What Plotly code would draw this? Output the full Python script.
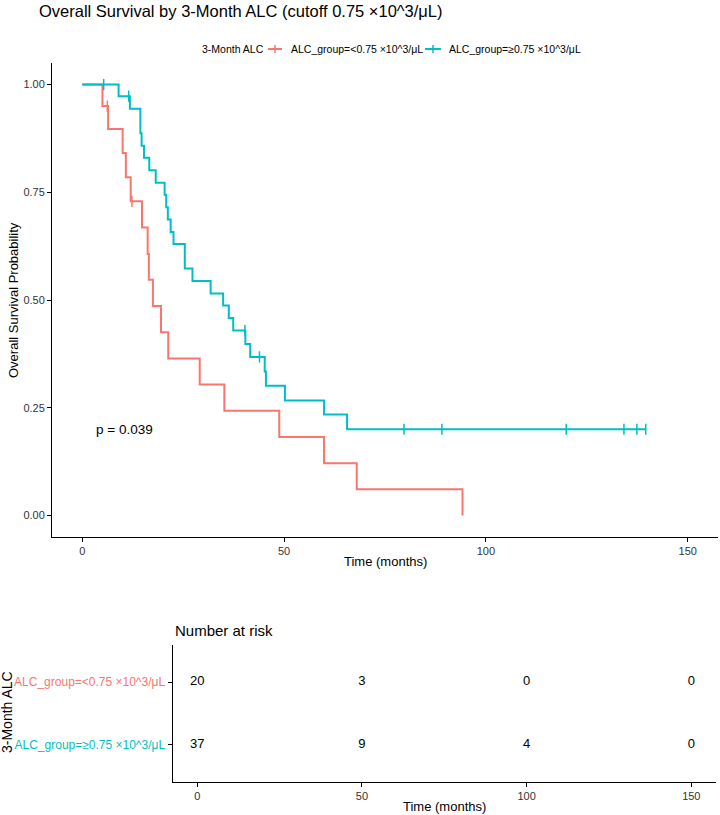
import plotly.graph_objects as go

# ---------------- data ----------------
group_names = ["ALC_group=<0.75 ×10^3/μL", "ALC_group=≥0.75 ×10^3/μL"]
group_colors = ["#F8766D", "#00BFC4"]

# Kaplan–Meier steps, low ALC group
time_lo = [0, 5.0, 6.4, 10.0, 10.8, 12.0, 14.8, 16.2, 16.5, 17.5, 19.5, 21.3, 29.1, 35.2, 48.8, 59.9, 68.0, 94.2]
surv_lo = [1.0, 0.950, 0.897, 0.841, 0.785, 0.729, 0.668, 0.607, 0.547, 0.486, 0.425, 0.364, 0.304, 0.243, 0.182, 0.121, 0.061, 0.0]
cens_time_lo = [6.2, 12.3]
cens_surv_lo = [0.950, 0.729]

# Kaplan–Meier steps, high ALC group
time_hi = [0, 9.0, 11.8, 14.4, 14.7, 15.3, 16.6, 18.2, 20.4, 20.8, 21.2, 21.9, 22.6, 25.4, 27.3, 31.8,
           34.9, 36.3, 37.4, 40.4, 41.6, 45.2, 45.5, 50.2, 59.9, 65.6, 139.6]
surv_hi = [1.0, 0.973, 0.944, 0.887, 0.858, 0.830, 0.801, 0.772, 0.744, 0.715, 0.687, 0.658, 0.630, 0.573,
           0.544, 0.515, 0.487, 0.458, 0.429, 0.398, 0.368, 0.334, 0.301, 0.267, 0.234, 0.200, 0.200]
cens_time_hi = [5.3, 11.5, 40.3, 43.9, 79.7, 89.1, 119.9, 134.2, 137.4, 139.6]
cens_surv_hi = [1.0, 0.973, 0.429, 0.368, 0.200, 0.200, 0.200, 0.200, 0.200, 0.200]

# number at risk table
risk_times = [0, 50, 100, 150]
risk_lo = [20, 3, 0, 0]
risk_hi = [37, 9, 4, 0]

x_ticks = [0, 50, 100, 150]
y_ticks = [0.0, 0.25, 0.5, 0.75, 1.0]
y_ticklabels = ["0.00", "0.25", "0.50", "0.75", "1.00"]

p_text = "p = 0.039"
title_text = "Overall Survival by 3-Month ALC (cutoff 0.75 ×10^3/μL)"
legend_title = "3-Month ALC"

# ---------------- layout helpers ----------------
W, H = 720, 815
FONT = "Liberation Sans, Arial, sans-serif"
TICK_COL = "#333333"


def px(x):
    return x / W


def py(y):
    return 1 - y / H


fig = go.Figure()

curves = [(time_lo, surv_lo, cens_time_lo, cens_surv_lo), (time_hi, surv_hi, cens_time_hi, cens_surv_hi)]
for (t, s, ct, cs), name, col in zip(curves, group_names, group_colors):
    fig.add_trace(go.Scatter(x=t, y=s, mode="lines", line=dict(color=col, width=2, shape="hv"),
                             name=name, showlegend=False, xaxis="x", yaxis="y"))
    fig.add_trace(go.Scatter(x=ct, y=cs, mode="markers",
                             marker=dict(symbol="line-ns-open", size=8, color=col,
                                         line=dict(color=col, width=1.5)),
                             showlegend=False, xaxis="x", yaxis="y"))

# risk table
row_y = [1, 0]
for counts, yv in zip([risk_lo, risk_hi], row_y):
    fig.add_trace(go.Scatter(x=risk_times, y=[yv] * len(risk_times), mode="text",
                             text=[str(c) for c in counts],
                             textfont=dict(family=FONT, size=13, color="black"),
                             textposition="middle center", showlegend=False,
                             xaxis="x2", yaxis="y2"))

axis_common = dict(showline=True, linecolor="black", linewidth=1, ticks="outside", ticklen=4,
                   tickcolor="black", tickwidth=1, showgrid=False, zeroline=False,
                   tickfont=dict(family=FONT, size=11, color=TICK_COL), fixedrange=True)

fig.update_layout(
    width=W, height=H, margin=dict(l=0, r=0, t=0, b=0),
    paper_bgcolor="white", plot_bgcolor="white",
    font=dict(family=FONT, color="black"),
    xaxis=dict(domain=[px(52), px(718)], range=[-7.5, 157.5], tickvals=x_ticks, anchor="y", **axis_common),
    yaxis=dict(domain=[py(537), py(63)], range=[-0.05, 1.05], tickvals=y_ticks, ticktext=y_ticklabels,
               anchor="x", **axis_common),
    xaxis2=dict(domain=[px(172.5), px(716)], range=[-7.5, 157.5], tickvals=x_ticks, anchor="y2", **axis_common),
    yaxis2=dict(domain=[py(782), py(645)], range=[-0.59, 1.59], tickvals=row_y,
                ticktext=[f"<span style='color:{c}'>{n}</span>" for n, c in zip(group_names, group_colors)],
                anchor="x2", **{**axis_common, "tickfont": dict(family=FONT, size=12)}),
)


def note(text, x, y, size, xanchor="center", angle=0, xref="paper", yref="paper"):
    return dict(text=text, x=x, y=y, xref=xref, yref=yref, xanchor=xanchor, yanchor="middle",
                textangle=angle, showarrow=False, font=dict(family=FONT, size=size, color="black"))


ann = [
    note(title_text, px(37), py(11), 16.5, xanchor="left"),
    note("Overall Survival Probability", px(13), py(300), 13, angle=-90),
    note("Time (months)", px(385), py(561), 13),
    note(p_text, 3, 0.2, 13.5, xanchor="left", xref="x", yref="y"),
    note("Number at risk", px(173), py(630), 15, xanchor="left"),
    note("3-Month ALC", px(7), py(712), 14, angle=-90),
    note("Time (months)", px(444), py(806), 13),
    note(legend_title, px(200), py(49), 10.5, xanchor="left"),
]

# manual legend keys
leg_items = [(268, 282, 289), (425, 441, 447)]
shapes = []
for (x0, x1, xt), name, col in zip(leg_items, group_names, group_colors):
    shapes.append(dict(type="line", xref="paper", yref="paper", x0=px(x0), x1=px(x1), y0=py(49), y1=py(49),
                       line=dict(color=col, width=2)))
    xm = (x0 + x1) / 2
    shapes.append(dict(type="line", xref="paper", yref="paper", x0=px(xm), x1=px(xm), y0=py(45), y1=py(53),
                       line=dict(color=col, width=1.5)))
    ann.append(note(name, px(xt), py(49), 10.5, xanchor="left"))

fig.update_layout(annotations=ann, shapes=shapes)
fig.write_html("out.html")
